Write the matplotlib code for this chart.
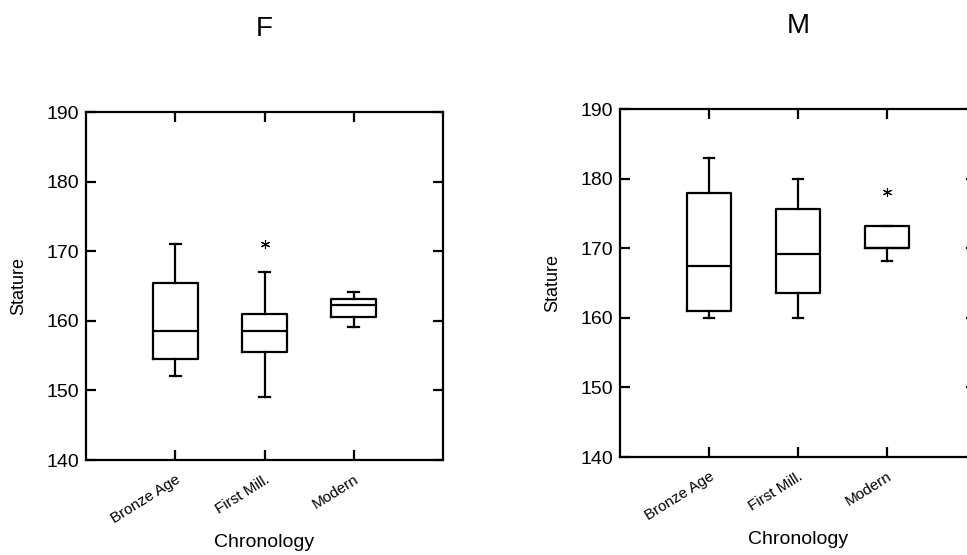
import matplotlib
matplotlib.use("Agg")
import matplotlib.pyplot as plt

plt.rcParams['font.family'] = ['Liberation Sans', 'DejaVu Sans']

categories = ["Bronze Age", "First Mill.", "Modern"]
yticks = [140, 150, 160, 170, 180, 190]

# Female (F) panel
f_whislo = [152.0, 149.1, 159.1]
f_q1 = [154.5, 155.5, 160.6]
f_med = [158.5, 158.6, 162.2]
f_q3 = [165.5, 161.0, 163.2]
f_whishi = [171.0, 167.0, 164.1]
f_fliers = [[], [171.1], []]

# Male (M) panel
m_whislo = [160.0, 160.0, 168.2]
m_q1 = [161.0, 163.6, 170.1]
m_med = [167.5, 169.2, 170.1]
m_q3 = [178.0, 175.6, 173.2]
m_whishi = [183.0, 180.0, 173.2]
m_fliers = [[], [], [178.1]]

panels = [
    ("F", f_whislo, f_q1, f_med, f_q3, f_whishi, f_fliers,
     [86 / 967, 1 - 460 / 555, 357 / 967, 348 / 555]),
    ("M", m_whislo, m_q1, m_med, m_q3, m_whishi, m_fliers,
     [620 / 967, 1 - 457 / 555, 356 / 967, 348 / 555]),
]

fig = plt.figure(figsize=(9.67, 5.55), dpi=100)
lw = 1.6
for title, wlo, q1, med, q3, whi, fl, rect in panels:
    ax = fig.add_axes(rect)
    stats = []
    for i, name in enumerate(categories):
        stats.append(dict(label=name, whislo=wlo[i], q1=q1[i], med=med[i],
                          q3=q3[i], whishi=whi[i], fliers=fl[i]))
    ax.bxp(stats, positions=[1, 2, 3], widths=0.5, capwidths=0.12,
           showfliers=True,
           boxprops=dict(color='black', linewidth=lw),
           medianprops=dict(color='black', linewidth=lw),
           whiskerprops=dict(color='black', linewidth=lw),
           capprops=dict(color='black', linewidth=lw),
           flierprops=dict(marker=(6, 2, 0), markersize=6.5,
                           markeredgecolor='black', markeredgewidth=0.8,
                           linestyle='none'))
    ax.set_xlim(0, 4)
    ax.set_ylim(140, 190)
    ax.set_yticks(yticks)
    ax.set_yticklabels([str(v) for v in yticks], fontsize=14)
    ax.set_xticks([1, 2, 3])
    ax.set_xticklabels(categories, fontsize=11, rotation=32,
                       ha='right', rotation_mode='anchor')
    ax.tick_params(axis='both', direction='in', length=7.5, width=lw,
                   top=True, right=True)
    ax.tick_params(axis='y', pad=5)
    ax.tick_params(axis='x', pad=9)
    for sp in ax.spines.values():
        sp.set_linewidth(lw)
    ax.set_xlabel("Chronology", fontsize=14, labelpad=6)
    ax.set_ylabel("Stature", fontsize=13, labelpad=14)
    ax.set_title(title, fontsize=20, pad=55)

fig.savefig("out.png", dpi=100)
